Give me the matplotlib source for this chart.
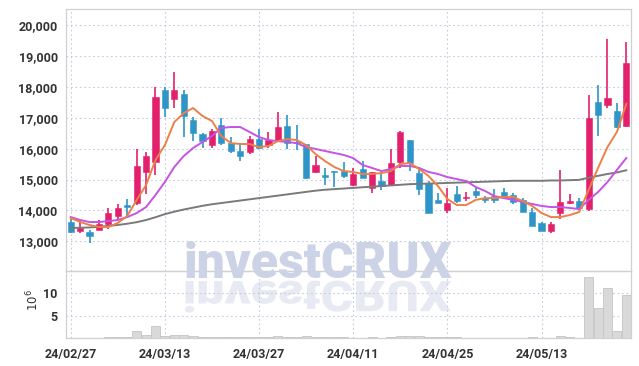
import matplotlib
matplotlib.use("Agg")
import matplotlib.pyplot as plt
import numpy as np
from matplotlib.textpath import TextPath
from matplotlib.patches import PathPatch
from matplotlib.font_manager import FontProperties
from matplotlib.transforms import Affine2D, IdentityTransform

# ---------------- data ----------------
date_labels = ["24/02/27", "24/03/13", "24/03/27", "24/04/11", "24/04/25", "24/05/13"]
date_label_idx = [0, 10, 20, 30, 40, 50]

opens  = [13625, 13335, 13300, 13365, 13560, 13820, 14175, 14240, 15245, 15570,
          17900, 17605, 17770, 16925, 16470, 16115, 16765, 16180, 15920, 15890,
          16310, 16115, 16245, 16730, 16200, 16150, 15245, 15145, 15275, 15275,
          14820, 15340, 14725, 14950, 14820, 15570, 16280, 15210, 14890, 14340,
          14015, 14530, 14400, 14630, 14400, 14465, 14595, 14500, 14340, 13950,
          13595, 13335, 13915, 14240, 14305, 14045, 17510, 17410, 17215, 16730]
highs  = [13755, 13690, 13365, 13690, 14080, 14210, 14370, 15990, 15890, 17995,
          17995, 18480, 17900, 17025, 16505, 16635, 16990, 16375, 16180, 16410,
          16635, 16540, 17185, 17090, 16765, 16150, 15760, 15375, 15275, 15570,
          15375, 15600, 15245, 15210, 15990, 16570, 16280, 15375, 14950, 14565,
          14725, 14790, 14595, 14725, 14465, 14695, 14725, 14565, 14400, 14080,
          13625, 13625, 15310, 14530, 14400, 17735, 18060, 19545, 17475, 19450]
lows   = [13270, 13270, 12945, 13365, 13400, 13690, 13820, 14175, 14530, 15145,
          17025, 17315, 16375, 16245, 16020, 16020, 16115, 15860, 15600, 15825,
          15990, 16020, 16245, 15990, 15955, 15015, 15210, 14820, 14755, 15050,
          14790, 15050, 14565, 14660, 14820, 15375, 15275, 14500, 13915, 14240,
          13915, 14240, 14305, 14400, 14240, 14240, 14370, 14210, 13950, 13495,
          13335, 13270, 13720, 14210, 14015, 13980, 16410, 17315, 16665, 16700]
closes = [13300, 13430, 13170, 13560, 13915, 14080, 14110, 15440, 15760, 17670,
          17315, 17900, 17055, 16505, 16245, 16570, 16180, 15920, 15760, 16310,
          16020, 16280, 16700, 16180, 16180, 15050, 15470, 15080, 15245, 15115,
          15180, 15050, 15245, 14790, 15535, 16540, 15535, 14695, 13915, 14240,
          14240, 14305, 14440, 14500, 14340, 14340, 14465, 14275, 13950, 13495,
          13335, 13560, 14275, 14305, 14080, 16990, 17090, 17640, 16700, 18770]

ma_short = [13755, 13625, 13530, 13465, 13465, 13595, 13820, 14335, 14820, 15630,
            16115, 16860, 17150, 17315, 17055, 16895, 16410, 16180, 16150, 16150,
            16050, 16085, 16245, 16310, 16280, 16115, 15825, 15600, 15405, 15275,
            15245, 15180, 15180, 15210, 15275, 15500, 15535, 15340, 15115, 14790,
            14370, 14175, 14175, 14340, 14400, 14400, 14435, 14435, 14305, 14145,
            13915, 13785, 13785, 13850, 13950, 14660, 15375, 16050, 16540, 17445]
ma_mid   = [13785, 13690, 13625, 13625, 13655, 13690, 13785, 13915, 14110, 14500,
            14920, 15405, 15760, 16020, 16215, 16410, 16670, 16700, 16700, 16540,
            16375, 16280, 16245, 16215, 16180, 16050, 15990, 15925, 15860, 15795,
            15695, 15470, 15375, 15275, 15340, 15440, 15440, 15375, 15245, 15180,
            15080, 15015, 14950, 14760, 14630, 14465, 14400, 14340, 14275, 14210,
            14145, 14110, 14110, 14080, 14045, 14340, 14595, 14920, 15310, 15695]
ma_long  = [13430, 13440, 13450, 13470, 13500, 13530, 13570, 13620, 13690, 13780,
            13880, 13960, 14030, 14090, 14150, 14200, 14240, 14280, 14320, 14360,
            14400, 14440, 14480, 14520, 14560, 14600, 14640, 14670, 14690, 14710,
            14730, 14750, 14770, 14790, 14810, 14830, 14850, 14860, 14870, 14880,
            14890, 14900, 14910, 14920, 14930, 14940, 14950, 14960, 14960, 14960,
            14960, 14970, 14970, 14980, 14990, 15060, 15120, 15180, 15230, 15300]

volume_m = [0.05, 0.05, 0.05, 0.05, 0.2, 0.2, 0.25, 1.5, 0.7, 2.6,
            0.35, 0.6, 0.6, 0.35, 0.15, 0.15, 0.15, 0.15, 0.15, 0.15,
            0.15, 0.15, 0.35, 0.15, 0.15, 0.35, 0.15, 0.15, 0.15, 0.15,
            0.05, 0.05, 0.2, 0.05, 0.3, 0.4, 0.4, 0.35, 0.3, 0.2,
            0.2, 0.2, 0.05, 0.05, 0.05, 0.05, 0.05, 0.05, 0.05, 0.2,
            0.05, 0.05, 0.45, 0.25, 0.05, 13.6, 6.7, 11.1, 1.6, 9.6]

price_ticks = [13000, 14000, 15000, 16000, 17000, 18000, 19000, 20000]
vol_ticks = [5, 10]
watermark = "investCRUX"

# ---------------- style ----------------
UP = "#e3206b"
DOWN = "#2f95c8"
GRID = "#c5cadc"
SPINE = "#d0d0d0"
TICKFONT = ["Roboto", "DejaVu Sans"]

W, H = 639, 366
fig = plt.figure(figsize=(W / 100, H / 100), dpi=100)
left, right = 66 / W, 631 / W
ax = fig.add_axes([left, 1 - 271 / H, right - left, (271 - 9) / H])
axv = fig.add_axes([left, 1 - 338 / H, right - left, (338 - 271) / H], sharex=ax)

x = np.arange(len(opens))
o = np.array(opens); c = np.array(closes); h = np.array(highs); l = np.array(lows)
up = c >= o
colors = np.where(up, UP, DOWN)

for a in (ax, axv):
    a.set_facecolor("white")
    a.grid(True, color=GRID, linestyle=(0, (1.5, 2.5)), linewidth=0.8)
    a.set_axisbelow(True)
    for s in a.spines.values():
        s.set_color(SPINE)
        s.set_linewidth(0.9)
ax.patch.set_alpha(0)
axv.patch.set_alpha(0)

# watermark (text + mirrored reflection)
wm_size = 36
wm_prop = FontProperties(family=["Roboto", "DejaVu Sans"], weight="black", size=wm_size)
base_y = H - 278
fig.text(318 / W, base_y / H, watermark, ha="center", va="baseline",
         fontproperties=wm_prop, color="#cdd3e6", zorder=0)
tp = TextPath((0, 0), watermark, size=wm_size * 100 / 72, prop=wm_prop)
ext = tp.get_extents()
cx = (ext.x0 + ext.x1) / 2
refl = PathPatch(tp, facecolor="#e7eaf3", edgecolor="none", zorder=0,
                 transform=Affine2D().translate(-cx, 0).scale(1, -0.85)
                 .translate(318, base_y - 3) + IdentityTransform())
fig.add_artist(refl)

# candles
ax.vlines(x, l, h, colors=colors, linewidth=1.2, zorder=3)
body_bottom = np.minimum(o, c)
body_h = np.maximum(np.abs(c - o), 25)
ax.bar(x, body_h, bottom=body_bottom, width=0.66, color=colors,
       edgecolor=colors, linewidth=0.4, zorder=4)

# moving averages
ax.plot(x, ma_long, color="#7a7a7a", linewidth=1.4, zorder=5)
ax.plot(x, ma_mid, color="#c653e6", linewidth=1.4, zorder=5)
ax.plot(x, ma_short, color="#ec8048", linewidth=1.4, zorder=5)

ax.set_xlim(-0.5, 59.5)
ax.set_ylim(12040, 20520)
ax.set_yticks(price_ticks)
ax.set_yticklabels([f"{v:,}" for v in price_ticks])
ax.set_xticks(date_label_idx)
ax.tick_params(axis="x", labelbottom=False, length=0)
ax.tick_params(axis="y", length=0, pad=6, labelsize=9, colors="#333333")
for t in ax.get_yticklabels():
    t.set_family(TICKFONT)
    t.set_fontweight("bold")

# volume
axv.bar(x, volume_m, width=0.95, color="#d9d9d9", edgecolor="#c4c4c4",
        linewidth=0.6, zorder=3)
axv.set_ylim(0, 15)
axv.set_yticks(vol_ticks)
axv.set_yticklabels([str(v) for v in vol_ticks])
axv.set_xticks(date_label_idx)
axv.set_xticklabels(date_labels)
axv.tick_params(axis="both", length=0, labelsize=9, colors="#333333")
axv.tick_params(axis="y", pad=6)
axv.tick_params(axis="x", pad=7)
for t in axv.get_yticklabels() + axv.get_xticklabels():
    t.set_family(TICKFONT)
    t.set_fontweight("bold")
fig.text(33 / W, 1 - 300 / H, r"$10^6$", rotation=90, ha="center", va="center",
         fontsize=8.5, color="#333333")

fig.savefig("out.png", dpi=100)
